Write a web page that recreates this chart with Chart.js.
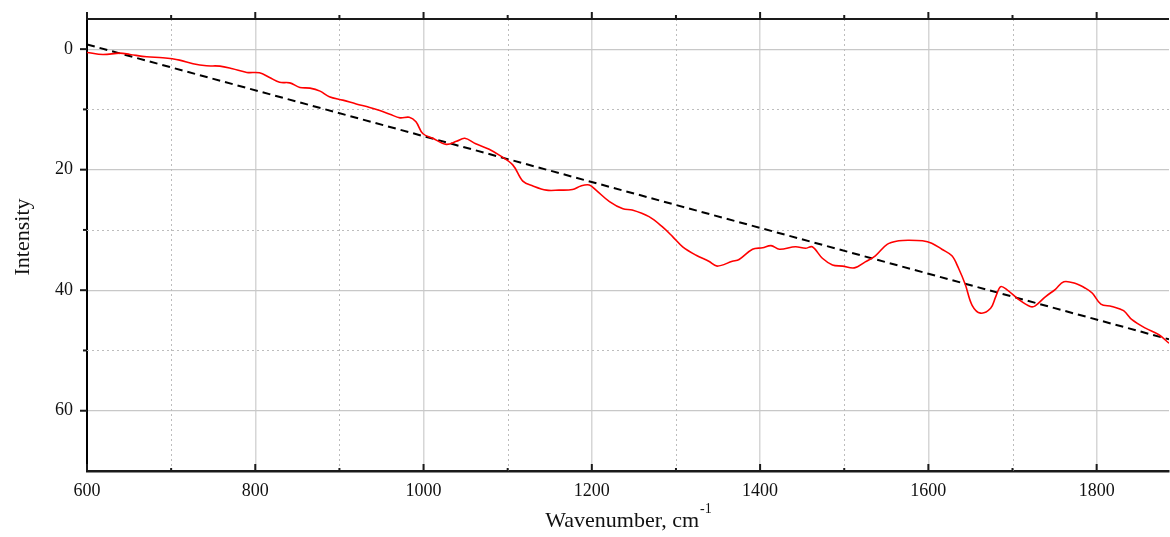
<!DOCTYPE html>
<html>
<head>
<meta charset="utf-8">
<title>spectrum</title>
<script src="https://cdn.jsdelivr.net/npm/chart.js@4.4.1/dist/chart.umd.min.js"></script>
<style>
  body { margin: 0; background: #fff; }
  #wrap { width: 1170px; height: 537px; }
</style>
</head>
<body>
<div id="wrap"><canvas id="chart"></canvas></div>
<script>
// spectrum
var wavenumbers = [600, 619, 639, 651, 671, 690, 710, 726, 742, 758, 773, 790, 805, 817, 829, 841, 853, 865, 877, 888,
  904, 920, 936, 948, 960, 972, 983, 991, 999, 1011, 1027, 1039, 1049, 1062, 1078, 1090, 1106, 1118, 1130, 1146,
  1161, 1177, 1187, 1197, 1205, 1221, 1237, 1248, 1268, 1284, 1296, 1308, 1324, 1339, 1349, 1367, 1375, 1391, 1403, 1413,
  1423, 1442, 1454, 1462, 1474, 1486, 1498, 1512, 1525, 1537, 1551, 1565, 1577, 1593, 1604, 1616, 1628, 1636, 1644, 1652,
  1662, 1674, 1680, 1686, 1694, 1707, 1721, 1727, 1739, 1751, 1761, 1775, 1787, 1795, 1805, 1818, 1832, 1842, 1858, 1874, 1886];
var intensity = [0.55, 0.9, 0.66, 0.88, 1.27, 1.44, 1.82, 2.43, 2.77, 2.82, 3.26, 3.87, 3.93, 4.7, 5.5, 5.6, 6.35, 6.47, 6.97, 7.9,
  8.46, 9.1, 9.67, 10.2, 10.8, 11.4, 11.3, 12.05, 14.0, 14.8, 15.8, 15.3, 14.8, 15.7, 16.6, 17.6, 19.2, 21.9, 22.7, 23.4,
  23.4, 23.3, 22.7, 22.55, 23.4, 25.3, 26.5, 26.7, 27.8, 29.5, 31.1, 32.8, 34.2, 35.2, 36.0, 35.2, 34.9, 33.2, 32.95, 32.6,
  33.2, 32.8, 33.05, 32.8, 34.7, 35.8, 36.0, 36.3, 35.3, 34.3, 32.4, 31.8, 31.7, 31.8, 32.2, 33.2, 34.3, 36.4, 39.1, 42.5,
  43.8, 43.0, 41.1, 39.4, 40.0, 41.5, 42.7, 42.6, 41.1, 39.85, 38.6, 38.9, 39.7, 40.5, 42.3, 42.7, 43.4, 44.9, 46.3, 47.4, 48.8];
var baselineX = [600, 1886];
var baselineY = [-0.78, 48.15];

var xTicks = [600, 800, 1000, 1200, 1400, 1600, 1800];
var xMinor = [700, 900, 1100, 1300, 1500, 1700];
var yTicks = [0, 20, 40, 60];
var yMinor = [10, 30, 50];

var serif = '"Liberation Serif", "Times New Roman", serif';

var toPts = function(xs, ys) { return xs.map(function(x, i) { return { x: x, y: ys[i] }; }); };

// minor grid, tick marks, top axis line and the axis titles
var axisExtras = {
  id: 'axisExtras',
  beforeDatasetsDraw: function(chart) {
    var c = chart.ctx, a = chart.chartArea, sx = chart.scales.x, sy = chart.scales.y;
    c.save();
    c.strokeStyle = '#bdbdbd';
    c.lineWidth = 1;
    c.setLineDash([2, 3]);
    xMinor.forEach(function(v) {
      var p = Math.round(sx.getPixelForValue(v)) + 0.5;
      c.beginPath(); c.moveTo(p, a.top); c.lineTo(p, a.bottom); c.stroke();
    });
    yMinor.forEach(function(v) {
      var p = Math.round(sy.getPixelForValue(v)) + 0.5;
      c.beginPath(); c.moveTo(a.left, p); c.lineTo(a.right, p); c.stroke();
    });
    c.restore();
  },
  afterDraw: function(chart) {
    var c = chart.ctx, a = chart.chartArea, sx = chart.scales.x, sy = chart.scales.y;
    c.save();
    // top line
    c.strokeStyle = '#1a1a1a';
    c.lineWidth = 2;
    c.beginPath(); c.moveTo(a.left - 1, a.top); c.lineTo(a.right, a.top); c.stroke();
    var tick = function(x1, y1, x2, y2) { c.beginPath(); c.moveTo(x1, y1); c.lineTo(x2, y2); c.stroke(); };
    xTicks.forEach(function(v) {
      var p = sx.getPixelForValue(v);
      tick(p, a.bottom, p, a.bottom - 7);
      tick(p, a.top, p, a.top - 7);
    });
    xMinor.forEach(function(v) {
      var p = sx.getPixelForValue(v);
      tick(p, a.bottom, p, a.bottom - 3);
      tick(p, a.top, p, a.top - 4);
    });
    yTicks.forEach(function(v) {
      var p = sy.getPixelForValue(v);
      tick(a.left, p, a.left - 7, p);
    });
    yMinor.forEach(function(v) {
      var p = sy.getPixelForValue(v);
      tick(a.left, p, a.left - 4, p);
    });

    // titles
    c.fillStyle = '#111';
    c.font = '22px ' + serif;
    c.textBaseline = 'alphabetic';
    var main = 'Wavenumber, cm', sup = '-1';
    var w1 = c.measureText(main).width;
    c.font = '14px ' + serif;
    var w2 = c.measureText(sup).width;
    var x0 = (a.left + a.right) / 2 - (w1 + w2) / 2;
    c.font = '22px ' + serif;
    c.textAlign = 'left';
    c.fillText(main, x0, 527);
    c.font = '14px ' + serif;
    c.fillText(sup, x0 + w1 + 1, 513);

    c.translate(29, 237);
    c.rotate(-Math.PI / 2);
    c.font = '22px ' + serif;
    c.textAlign = 'center';
    c.fillText('Intensity', 0, 0);
    c.restore();
  }
};

var ctx = document.getElementById('chart').getContext('2d');
var chart = new Chart(ctx, {
  type: 'line',
  data: {
    datasets: [{
      data: toPts(wavenumbers, intensity),
      borderColor: '#ff0000',
      borderWidth: 1.6,
      pointRadius: 0,
      tension: 0.35,
      fill: false
    }, {
      data: toPts(baselineX, baselineY),
      borderColor: '#000',
      borderWidth: 2,
      borderDash: [8, 5],
      pointRadius: 0,
      fill: false
    }]
  },
  options: {
    responsive: true,
    maintainAspectRatio: false,
    animation: false,
    layout: { padding: { top: 19, right: 1, left: 0, bottom: 0 } },
    plugins: { legend: { display: false }, tooltip: { enabled: false } },
    scales: {
      x: {
        type: 'linear',
        min: 600,
        max: 1886,
        afterBuildTicks: function(s) { s.ticks = xTicks.map(function(v) { return { value: v }; }); },
        afterFit: function(s) { s.height = 66; s.paddingLeft = 0; s.paddingRight = 0; },
        grid: { color: '#d6d6d6', lineWidth: 1.5, drawTicks: false },
        border: { display: true, color: '#1a1a1a', width: 2.5 },
        ticks: { padding: 9, color: '#111', font: { family: serif, size: 18 }, maxRotation: 0,
          callback: function(v) { return String(v); } }
      },
      y: {
        type: 'linear',
        reverse: true,
        min: -5,
        max: 70,
        afterBuildTicks: function(s) { s.ticks = yTicks.map(function(v) { return { value: v }; }); },
        afterFit: function(s) { s.width = 87; s.paddingTop = 0; s.paddingBottom = 0; },
        grid: { color: '#c8c8c8', lineWidth: 1.2, drawTicks: false },
        border: { display: true, color: '#000', width: 2 },
        ticks: { padding: 14, color: '#111', font: { family: serif, size: 18 },
          callback: function(v) { return String(v); } }
      }
    }
  },
  plugins: [axisExtras]
});
</script>
</body>
</html>
